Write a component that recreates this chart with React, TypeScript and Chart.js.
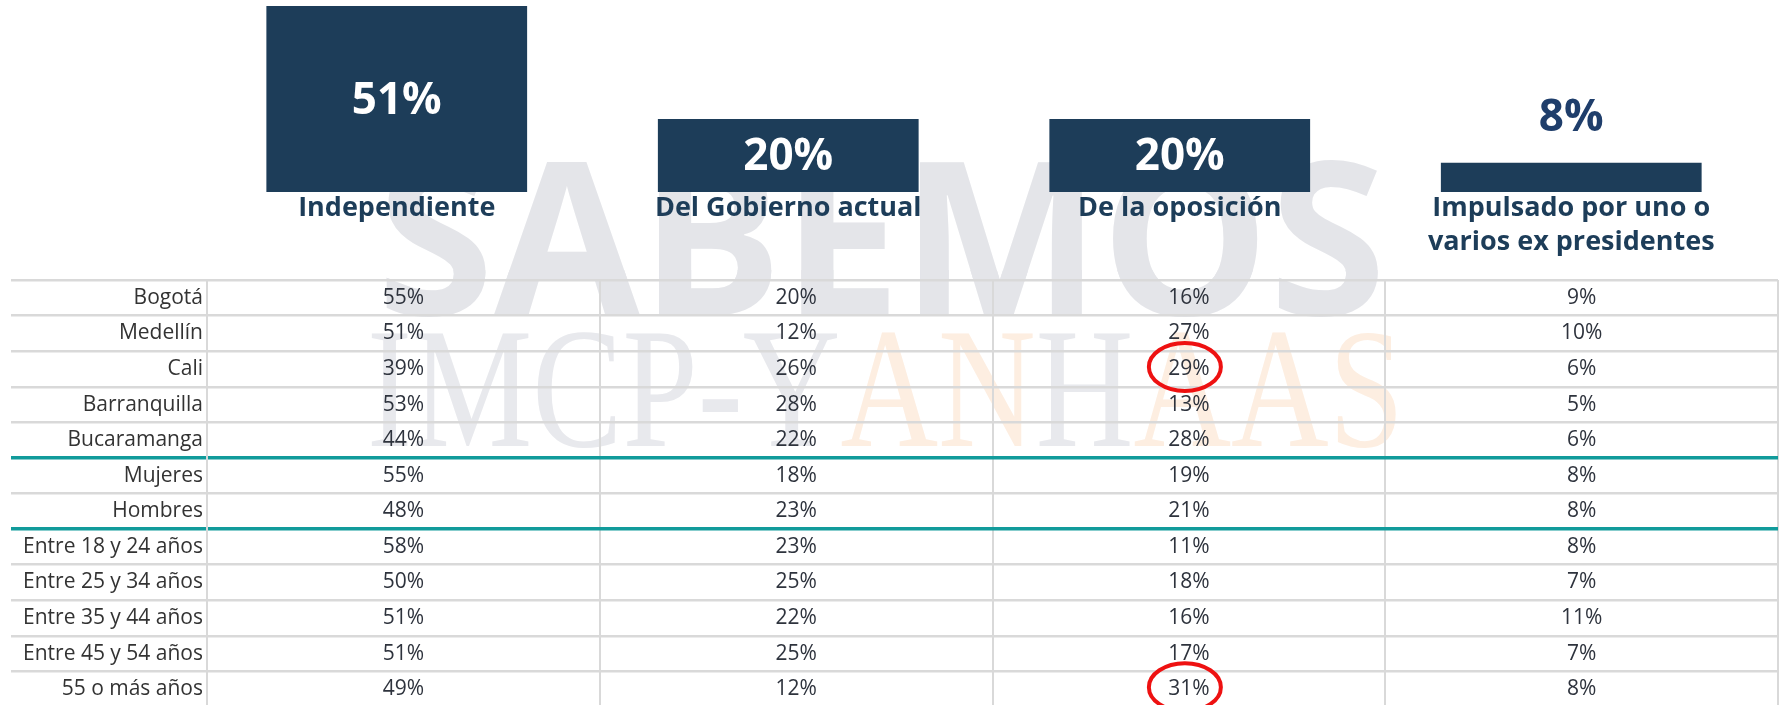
import React, { useEffect, useRef } from 'react';
import { Chart, registerables } from 'chart.js';

Chart.register(...registerables);

// ---------------- data ----------------
const columnLabels: string[][] = [
  ['Independiente'],
  ['Del Gobierno actual'],
  ['De la oposición'],
  ['Impulsado por uno o', 'varios ex presidentes'],
];
const totalValues = [51, 20, 20, 8];

const rowLabels = [
  'Bogotá',
  'Medellín',
  'Cali',
  'Barranquilla',
  'Bucaramanga',
  'Mujeres',
  'Hombres',
  'Entre 18 y 24 años',
  'Entre 25 y 34 años',
  'Entre 35 y 44 años',
  'Entre 45 y 54 años',
  '55 o más años',
];
const independiente = [55, 51, 39, 53, 44, 55, 48, 58, 50, 51, 51, 49];
const gobiernoActual = [20, 12, 26, 28, 22, 18, 23, 23, 25, 22, 25, 12];
const oposicion = [16, 27, 29, 13, 28, 19, 21, 11, 18, 16, 17, 31];
const exPresidentes = [9, 10, 6, 5, 6, 8, 8, 8, 7, 11, 7, 8];
const tableColumns = [independiente, gobiernoActual, oposicion, exPresidentes];

const groupStarts = [5, 7]; // rows where a new segment begins
const highlightedCells = [
  { row: 2, col: 2 },
  { row: 11, col: 2 },
];

const watermarkMain = 'SABEMOS';
const watermarkParts = [
  { text: 'IMCP-Y', tone: 'gray' },
  { text: 'AN', tone: 'orange' },
  { text: 'H', tone: 'gray' },
  { text: 'AAS', tone: 'orange' },
];

// ---------------- styles ----------------
const W = 1785;
const FONT = '"Open Sans", "DejaVu Sans", sans-serif';
const NAVY = '#1d3d59';
const NAVY_LABEL = '#1f3e6b';
const GRID = '#d9d9d9';
const TEAL = '#119b9b';
const CELL_TEXT = '#2e333d';
const TOP_H = 280;
const TABLE_TOP = 270;
const TABLE_H = 437;

function makeWatermarkPlugin(offsetY: number) {
  return {
    id: 'watermark' + offsetY,
    beforeDraw(chart: any) {
      const ctx = chart.ctx as CanvasRenderingContext2D;
      ctx.save();
      ctx.translate(0, -offsetY);
      // SABEMOS
      ctx.font = `700 213px ${FONT}`;
      ctx.textBaseline = 'alphabetic';
      ctx.textAlign = 'left';
      const m = ctx.measureText(watermarkMain);
      const targetW = 1009;
      ctx.save();
      ctx.translate(377, 315);
      ctx.scale(targetW / m.width, 1);
      ctx.fillStyle = '#e4e5e9';
      ctx.fillText(watermarkMain, 0, 0);
      ctx.restore();
      // IMCP-YANHAAS
      ctx.font = `400 171px "Liberation Serif", serif`;
      const full = watermarkParts.map((p) => p.text).join('');
      const fw = ctx.measureText(full).width;
      ctx.save();
      ctx.translate(367, 446);
      ctx.scale(1022 / fw, 1);
      let x = 0;
      watermarkParts.forEach((p) => {
        ctx.fillStyle = p.tone === 'gray' ? '#e8e9ed' : '#fdeee1';
        ctx.fillText(p.text, x, 0);
        x += ctx.measureText(p.text).width;
      });
      ctx.restore();
      ctx.restore();
    },
  };
}

const barValuePlugin = {
  id: 'barValues',
  afterDatasetsDraw(chart: any) {
    const ctx = chart.ctx as CanvasRenderingContext2D;
    const meta = chart.getDatasetMeta(0);
    ctx.save();
    ctx.font = `700 44px ${FONT}`;
    ctx.textAlign = 'center';
    ctx.textBaseline = 'middle';
    meta.data.forEach((bar: any, i: number) => {
      const v = totalValues[i];
      const h = bar.base - bar.y;
      if (h > 60) {
        ctx.fillStyle = '#ffffff';
        ctx.fillText(v + '%', bar.x, (bar.y + bar.base) / 2 + 2);
      } else {
        ctx.fillStyle = NAVY_LABEL;
        ctx.fillText(v + '%', bar.x, bar.y - 44);
      }
    });
    ctx.restore();
  },
};

const cellPlugin = {
  id: 'cells',
  afterDraw(chart: any) {
    const ctx = chart.ctx as CanvasRenderingContext2D;
    const xs = chart.scales.x;
    const ys = chart.scales.y;
    ctx.save();
    ctx.font = `400 21px ${FONT}`;
    ctx.fillStyle = CELL_TEXT;
    ctx.textAlign = 'center';
    ctx.textBaseline = 'middle';
    tableColumns.forEach((col, j) => {
      col.forEach((v, i) => {
        ctx.fillText(v + '%', xs.getPixelForValue(j), ys.getPixelForValue(i));
      });
    });
    ctx.strokeStyle = '#ee1111';
    ctx.lineWidth = 4;
    highlightedCells.forEach(({ row, col }) => {
      const cx = xs.getPixelForValue(col) - 4;
      const cy = ys.getPixelForValue(row) - 2;
      ctx.beginPath();
      ctx.ellipse(cx, cy, 36, 24, 0, 0, Math.PI * 2);
      ctx.stroke();
    });
    ctx.restore();
  },
};

export default function App() {
  const topRef = useRef<HTMLCanvasElement | null>(null);
  const tableRef = useRef<HTMLCanvasElement | null>(null);

  useEffect(() => {
    if (!topRef.current || !tableRef.current) return;

    const barChart = new Chart(topRef.current, {
      type: 'bar',
      data: {
        labels: columnLabels as any,
        datasets: [
          {
            data: totalValues,
            backgroundColor: NAVY,
            borderWidth: 0,
            barPercentage: 0.666,
            categoryPercentage: 1,
          },
        ],
      },
      options: {
        animation: false,
        responsive: false,
        devicePixelRatio: 1,
        layout: { padding: { left: 201, right: 18, top: 6, bottom: 0 } },
        plugins: { legend: { display: false }, tooltip: { enabled: false } },
        scales: {
          x: {
            grid: { display: false, drawTicks: false },
            border: { display: false },
            ticks: {
              color: NAVY,
              font: { family: FONT, size: 27, weight: 'bold', lineHeight: '34px' } as any,
              padding: -1,
              maxRotation: 0,
              autoSkip: false,
            },
            afterFit: (s: any) => {
              s.height = 88;
            },
          },
          y: { display: false, min: 0, max: 51 },
        },
      },
      plugins: [makeWatermarkPlugin(0), barValuePlugin],
    } as any);

    const tableChart = new Chart(tableRef.current, {
      type: 'bar',
      data: {
        labels: columnLabels.map((l) => l.join(' ')),
        datasets: [],
      },
      options: {
        animation: false,
        responsive: false,
        devicePixelRatio: 1,
        layout: { padding: { left: 0, right: 7, top: 10, bottom: 0 } },
        plugins: { legend: { display: false }, tooltip: { enabled: false } },
        scales: {
          x: {
            type: 'category',
            offset: true,
            grid: { offset: true, color: GRID, lineWidth: 2, drawTicks: false },
            ticks: { display: false },
            border: { display: false },
          },
          y: {
            type: 'category',
            labels: rowLabels,
            offset: true,
            grid: {
              offset: true,
              drawTicks: true,
              tickLength: 196,
              color: (c: any) => (groupStarts.includes(c.index) ? TEAL : GRID),
              lineWidth: (c: any) => (groupStarts.includes(c.index) ? 3.5 : 2.5),
            },
            ticks: {
              color: '#333333',
              font: { family: FONT, size: 21, weight: 'normal' },
              padding: -192,
              autoSkip: false,
            },
            border: { display: true, color: GRID, width: 2 },
            afterFit: (s: any) => {
              s.width = 207;
            },
          },
        },
      },
      plugins: [makeWatermarkPlugin(TABLE_TOP), cellPlugin],
    } as any);

    return () => {
      barChart.destroy();
      tableChart.destroy();
    };
  }, []);

  return (
    <div
      style={{
        position: 'absolute',
        left: 0,
        top: 0,
        width: W,
        height: 705,
        overflow: 'hidden',
        background: '#ffffff',
      }}
    >
      <canvas
        ref={topRef}
        width={W}
        height={TOP_H}
        style={{ position: 'absolute', left: 0, top: 0, width: W, height: TOP_H }}
      />
      <canvas
        ref={tableRef}
        width={W}
        height={TABLE_H}
        style={{ position: 'absolute', left: 0, top: TABLE_TOP, width: W, height: TABLE_H }}
      />
    </div>
  );
}
